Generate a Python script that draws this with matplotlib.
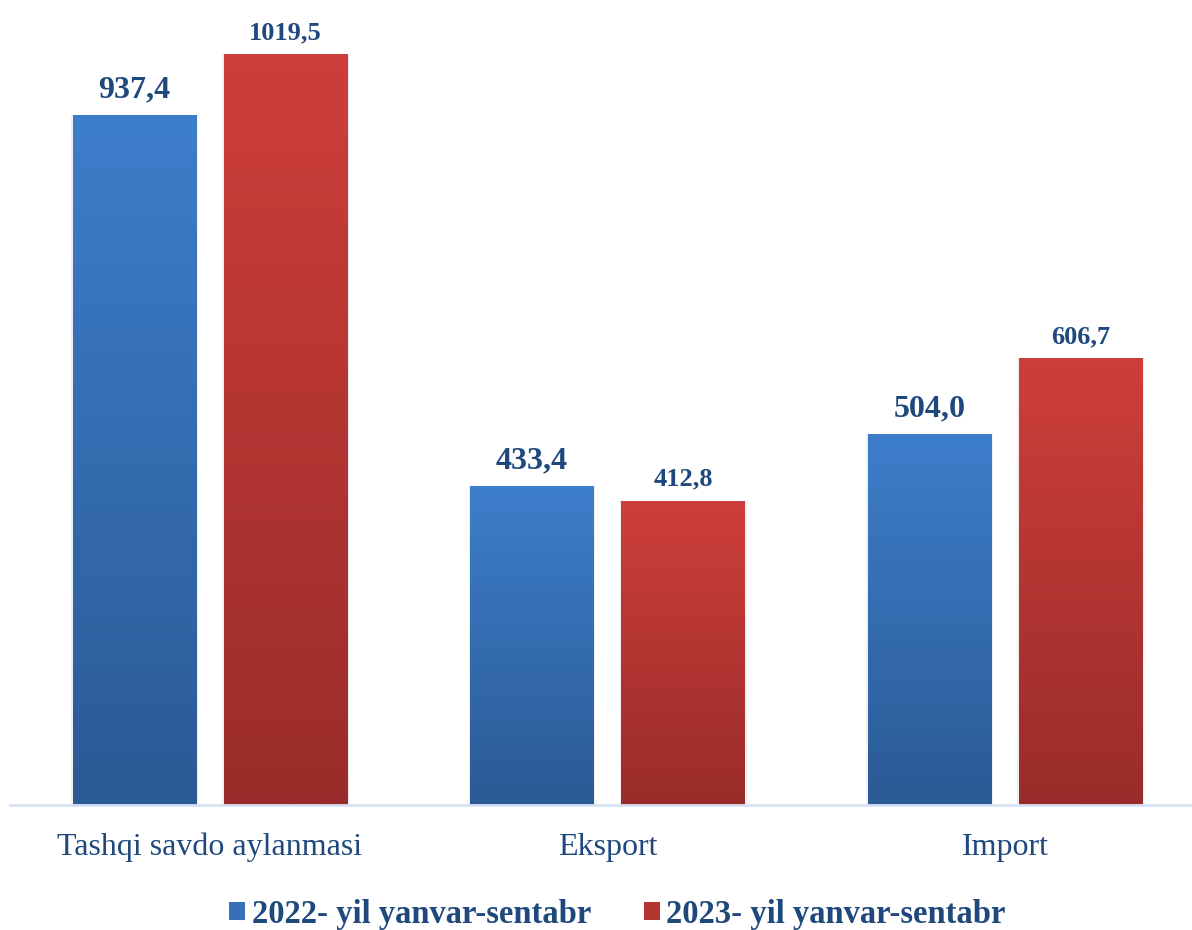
import numpy as np
import matplotlib
matplotlib.use("Agg")
import matplotlib.pyplot as plt
from matplotlib.patches import Patch
from matplotlib.colors import LinearSegmentedColormap

categories = ["Tashqi savdo aylanmasi", "Eksport", "Import"]
series_names = ["2022- yil yanvar-sentabr", "2023- yil yanvar-sentabr"]
values_2022 = [937.4, 433.4, 504.0]
values_2023 = [1019.5, 412.8, 606.7]

TEXT = "#1F497D"
BLUE_TOP, BLUE_BOT = "#3D7ECB", "#2B5A95"
RED_TOP, RED_BOT = "#CE3E3B", "#992C2A"

plt.rcParams["font.family"] = ["Liberation Serif", "DejaVu Serif"]

fig = plt.figure(figsize=(11.92, 9.30), dpi=100)
ax = fig.add_axes([10 / 1192, 125 / 930, 1 - 10 / 1192, 805 / 930])

x = np.arange(len(categories))
width = 0.31
offset = (width + 0.07) / 2


def gradient_bars(xs, vals, top, bot, label_size):
    cmap = LinearSegmentedColormap.from_list("g", [bot, top])
    grad = np.linspace(0, 1, 256).reshape(-1, 1)
    bars = ax.bar(xs, vals, width, color="none", edgecolor="none", zorder=2)
    for b, v in zip(bars, vals):
        x0 = b.get_x()
        # faint shadow
        ax.bar(x0 + width / 2, v, width * 1.03, color="#000000", alpha=0.06,
               edgecolor="none", zorder=1)
        im = ax.imshow(grad, cmap=cmap, origin="lower", aspect="auto",
                       extent=(x0, x0 + width, 0, v), zorder=2)
        im.set_clip_path(b)
        ax.text(x0 + width / 2, v + 14, f"{v:.1f}".replace(".", ","),
                ha="center", va="bottom", fontsize=label_size,
                fontweight="bold", color=TEXT)


gradient_bars(x - offset, values_2022, BLUE_TOP, BLUE_BOT, 23)
gradient_bars(x + offset, values_2023, RED_TOP, RED_BOT, 19)

ax.set_xlim(-0.503, 2.47)
ax.set_ylim(0, 1093)
ax.set_xticks(x)
ax.set_xticklabels(categories, fontsize=23, color=TEXT)
ax.tick_params(axis="x", length=0, pad=20)
ax.set_yticks([])
for s in ["top", "right", "left"]:
    ax.spines[s].set_visible(False)
ax.spines["bottom"].set_color("#D6E3F5")
ax.spines["bottom"].set_linewidth(2)

handles = [Patch(facecolor="#3670B8"), Patch(facecolor="#B53532")]
leg = fig.legend(handles, series_names, loc="center", bbox_to_anchor=(0.518, 0.017),
                 ncol=2, frameon=False, handlelength=0.5, handleheight=0.5,
                 handletextpad=0.2, columnspacing=1.6, borderpad=0,
                 prop={"size": 23.5, "weight": "bold"})
for t in leg.get_texts():
    t.set_color(TEXT)

fig.savefig("out.png", dpi=100)
